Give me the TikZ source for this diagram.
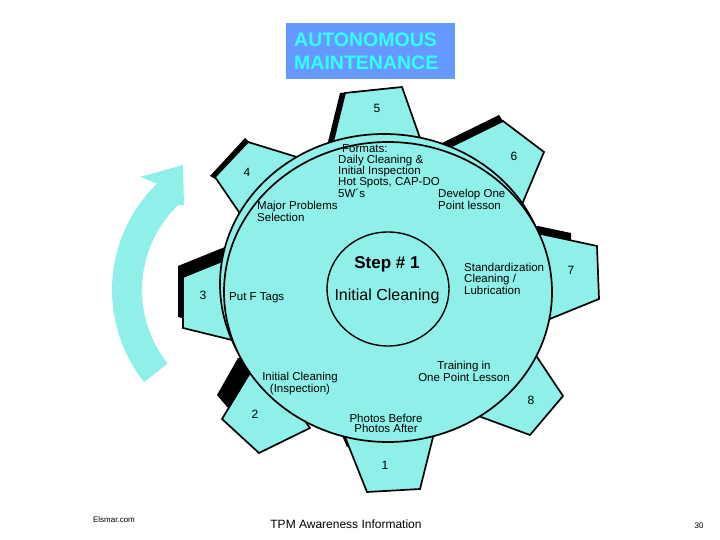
\documentclass[tikz,border=0pt]{standalone}
\usepackage{fontspec}
\setmainfont{Liberation Sans}
\usetikzlibrary{calc}
\definecolor{gear}{RGB}{142,240,232}
\definecolor{titlebg}{RGB}{102,153,255}
\definecolor{titlefg}{RGB}{51,255,255}
\begin{document}
\begin{tikzpicture}[x=1pt,y=-1pt,
  outl/.style={draw=black, line width=1.7pt, line join=miter},
  toothshape/.style={fill=gear, outl},
  shade3d/.style={fill=black},
  lbl/.style={inner sep=0pt, font=\fontsize{11.5}{10.6}\selectfont, align=left},
  clbl/.style={inner sep=0pt, font=\fontsize{11.5}{10.6}\selectfont, align=center},
  num/.style={inner sep=0pt, font=\fontsize{12}{14}\selectfont},
  small/.style={inner sep=0pt, font=\fontsize{8}{9}\selectfont}]
\useasboundingbox (0,0) rectangle (720,540);
\fill[white] (0,0) rectangle (720,540);

% title
\fill[titlebg] (286,23) rectangle (455,79);
\node[inner sep=0pt, anchor=base west, text=titlefg, font=\fontsize{19.5}{23}\selectfont\bfseries] (t1) at (294,47) {AUTONOMOUS};
\node[inner sep=0pt, anchor=base west, text=titlefg, font=\fontsize{19.5}{23}\selectfont\bfseries] (t2) at (294,70) {MAINTENANCE};

% curved arrow
\coordinate (ac) at (260,290);
\fill[gear] ($(ac)+(141.5:148)$) arc[start angle=141.5,end angle=226,radius=148]
  -- (140,177) -- (183,165) -- (184,205) -- ($(ac)+(226:118)$)
  arc[start angle=226,end angle=141.5,radius=118] -- cycle;

% tooth shadows
\fill[shade3d] (328,142) -- (340,93) -- (397,87) -- (410,150) -- (345,170) -- cycle;
\fill[shade3d] (436,146) -- (499,115) -- (503,121) -- (500,190) -- cycle;
\fill[shade3d] (530,230) -- (538,226) -- (571,233) -- (571,240) -- (547,236) -- (535,245) -- cycle;
\fill[shade3d] (340,431) -- (372,438) -- (360,443) -- (347,447) -- cycle;
\fill[shade3d] (217,395) -- (238,358) -- (262,356) -- (245,390) -- (228,408) -- cycle;
\fill[shade3d] (178,266) -- (220,249) -- (240,241) -- (247,334) -- (178,317) -- cycle;
\fill[shade3d] (245,138) -- (210,176) -- (217,180) -- (250,143) -- cycle;

% teeth
\path[toothshape] (345,93) -- (402,87) -- (420,138) -- (418,165) -- (340,165) -- (333,142) -- cycle;
\path[toothshape] (503,121) -- (544,152) -- (515,221) -- (440,152) -- cycle;
\path[toothshape] (597,246) -- (599,299) -- (530,327) -- (527,231) -- cycle;
\path[toothshape] (537,357) -- (563,396) -- (530,435) -- (462,410) -- (524,337) -- cycle;
\path[toothshape] (339,422) -- (345,437) -- (367,492) -- (420,489) -- (433,437) -- (437,421) -- cycle;
\path[toothshape] (222,419) -- (259,453) -- (310,428) -- (290,400) -- (262,353) -- cycle;
\path[toothshape] (183,277) -- (183,328) -- (232,340) -- (252,345) -- (245,252) -- (225,260) -- cycle;
\path[toothshape] (248,142) -- (300,158) -- (320,164) -- (255,236) -- (243,218) -- (215,177) -- cycle;

% gear body
\path[fill=gear, outl] (384,284) ellipse [x radius=164, y radius=150];
\path[fill=gear, outl] (388,292) ellipse [x radius=164, y radius=150];
\draw[line width=1.4pt] (388,289) ellipse [x radius=61, y radius=57];

% numbers
\node[num, anchor=base] (n5) at (377,113) {5};
\node[num, anchor=base] (n6) at (514,161) {6};
\node[num, anchor=base] (n7) at (571,274) {7};
\node[num, anchor=base] (n8) at (531,404) {8};
\node[num, anchor=base] (n1) at (385,469) {1};
\node[num, anchor=base] (n2) at (255,418) {2};
\node[num, anchor=base] (n3) at (203,299) {3};
\node[num, anchor=base] (n4) at (247,177) {4};

% labels (base anchor = last line)
\node[lbl, anchor=base west] (formats) at (338,197.4) {\hspace{4pt}Formats:\\Daily Cleaning \&\\Initial Inspection\\Hot Spots, CAP-DO\\5W´s};
\node[lbl, anchor=base west] (develop) at (438,209.6) {Develop One\\Point lesson};
\node[lbl, anchor=base west] (major) at (257,221.6) {Major Problems\\Selection};
\node[lbl, anchor=base west] (stand) at (464,294.2) {Standardization\\Cleaning /\\Lubrication};
\node[lbl, anchor=base west] (putf) at (229,300) {Put F Tags};
\node[clbl, anchor=base] (train) at (464,381.6) {Training in\\One Point Lesson};
\node[clbl, anchor=base] (insp) at (300,392.6) {Initial Cleaning\\(Inspection)};
\node[clbl, anchor=base] (photos) at (386,432.6) {Photos Before\\Photos After};
\node[inner sep=0pt, anchor=base, font=\fontsize{17}{20}\selectfont\bfseries] (step) at (387,268) {Step \# 1};
\node[inner sep=0pt, anchor=base, font=\fontsize{16}{19}\selectfont] (ic) at (387,300) {Initial Cleaning};

% footer
\node[small, anchor=base] (els) at (114,522) {Elsmar.com};
\node[inner sep=0pt, anchor=base, font=\fontsize{12}{14}\selectfont] (tpm) at (346,528) {TPM Awareness Information};
\node[small, anchor=base] (pg) at (699,528) {30};
\end{tikzpicture}
\end{document}
